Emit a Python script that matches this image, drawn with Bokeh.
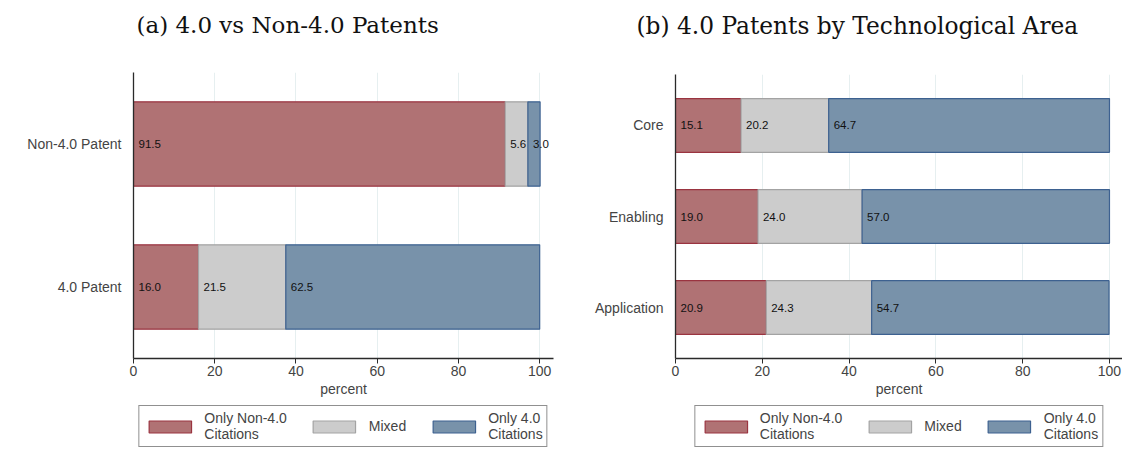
from bokeh.plotting import figure
from bokeh.models import (ColumnDataSource, Range1d, FactorRange, FixedTicker,
                          LabelSet, Legend, LegendItem)
from bokeh.core.properties import value
from bokeh.layouts import row, column
from bokeh.embed import file_html
from bokeh.resources import INLINE

# Panel (a): citation mix for 4.0 vs non-4.0 patents (percent)
cats_a = ["4.0 Patent", "Non-4.0 Patent"]
only_non_a = [16.0, 91.5]
mixed_a = [21.5, 5.6]
only_40_a = [62.5, 3.0]

# Panel (b): citation mix of 4.0 patents by technological area (percent)
cats_b = ["Application", "Enabling", "Core"]
only_non_b = [20.9, 19.0, 15.1]
mixed_b = [24.3, 24.0, 20.2]
only_40_b = [54.7, 57.0, 64.7]

series_names = ["Only Non-4.0\nCitations", "Mixed", "Only 4.0\nCitations"]
fills = ["#b07274", "#cccccc", "#7892aa"]
lines = ["#9a3440", "#a3a3a3", "#3d6190"]
x_ticks = [0, 20, 40, 60, 80, 100]

SANS = "Liberation Sans"
SERIF = "DejaVu Serif"

MAIN_H = 402
LEG_H = 458 - MAIN_H


def make_panel(title, cats, non, mix, only, width, border_left, border_right,
               x_end, pad, title_offset, title_size):
    # the blank second title line lifts the caption toward the top edge
    p = figure(width=width, height=MAIN_H, output_backend="svg", toolbar_location=None,
               y_range=FactorRange(*cats, range_padding=pad),
               x_range=Range1d(0, x_end),
               min_border_left=border_left, min_border_right=border_right,
               min_border_top=72, min_border_bottom=MAIN_H - 358,
               title=title + "\n ")
    p.title.text_font = SERIF
    p.title.text_font_size = title_size
    p.title.text_font_style = "normal"
    p.title.text_color = "#111111"
    p.title.align = "left"
    p.title.offset = title_offset
    p.title.standoff = 18

    p.outline_line_color = None
    p.background_fill_color = "white"
    p.border_fill_color = "white"

    stacks = [non, mix, only]
    left = [0.0] * len(cats)
    for vals, fc, lc in zip(stacks, fills, lines):
        right = [l + v for l, v in zip(left, vals)]
        src = ColumnDataSource(dict(cat=cats, left=left, right=right,
                                    val=vals, txt=["%.1f" % v for v in vals]))
        p.hbar(y="cat", left="left", right="right", height=0.59, source=src,
               fill_color=fc, line_color=lc, line_width=1.2)
        p.add_layout(LabelSet(x="left", y="cat", text="txt", source=src,
                              x_offset=5, text_baseline="middle", text_align="left",
                              text_font=value(SANS), text_font_size=value("11.5px"),
                              text_color="#111111"))
        left = right

    # axes
    p.xaxis.ticker = FixedTicker(ticks=x_ticks)
    p.xaxis.axis_label = "percent"
    p.xaxis.axis_label_text_font = SANS
    p.xaxis.axis_label_text_font_size = "14px"
    p.xaxis.axis_label_text_font_style = "normal"
    p.xaxis.axis_label_standoff = 2
    p.xaxis.major_label_text_font = SANS
    p.xaxis.major_label_text_font_size = "14px"
    p.xaxis.major_label_standoff = 2
    p.xaxis.major_tick_out = 5
    p.xaxis.major_tick_in = 0
    p.xaxis.minor_tick_line_color = None
    p.xaxis.axis_line_color = "#2a2a2a"
    p.xaxis.axis_line_width = 1.3
    p.xaxis.major_tick_line_color = "#2a2a2a"

    p.yaxis.major_label_text_font = SANS
    p.yaxis.major_label_text_font_size = "14px"
    p.yaxis.major_label_standoff = 6
    p.yaxis.major_tick_line_color = None
    p.yaxis.axis_line_color = "#2a2a2a"
    p.yaxis.axis_line_width = 1.3

    p.xgrid.ticker = FixedTicker(ticks=x_ticks[1:])
    p.xgrid.grid_line_color = "#e6eff0"
    p.xgrid.grid_line_width = 1
    p.ygrid.grid_line_color = None
    return p


def make_key(width, border_left, border_right):
    # strip holding the series key under each panel; the swatch renderers are
    # hidden so only the key itself shows
    k = figure(width=width, height=LEG_H, output_backend="svg", toolbar_location=None,
               x_range=Range1d(0, 1), y_range=Range1d(0, 1),
               min_border_left=border_left, min_border_right=border_right,
               min_border_top=0, min_border_bottom=0)
    k.axis.visible = False
    k.grid.visible = False
    k.outline_line_color = None
    swatch_src = ColumnDataSource(dict(y=[0.5], left=[0.0], right=[0.1]))
    rs = []
    for fc, lc in zip(fills, lines):
        r = k.hbar(y="y", left="left", right="right", height=0.2, source=swatch_src,
                   fill_color=fc, line_color=lc, line_width=1.2)
        r.visible = False
        rs.append(r)
    legend = Legend(items=[LegendItem(label=n, renderers=[r])
                           for n, r in zip(series_names, rs)],
                    orientation="horizontal", location="top_center",
                    glyph_width=53, glyph_height=15, label_standoff=8,
                    spacing=21, padding=4, margin=3,
                    label_text_font=SANS, label_text_font_size="14px",
                    label_text_line_height=0.85,
                    inactive_fill_alpha=0,
                    border_line_color="#222222", border_line_width=1,
                    background_fill_alpha=1)
    k.add_layout(legend)
    return k


pa = make_panel("(a) 4.0 vs Non-4.0 Patents", cats_a, only_non_a, mixed_a, only_40_a,
                width=578, border_left=133, border_right=25, x_end=103.4, pad=0,
                title_offset=3, title_size="23px")
pb = make_panel("(b) 4.0 Patents by Technological Area", cats_b, only_non_b, mixed_b,
                only_40_b, width=544, border_left=97, border_right=0, x_end=103.0,
                pad=0.04, title_offset=-39, title_size="23.3px")
ka = make_key(578, 133, 25)
kb = make_key(544, 97, 0)

layout = row(column(pa, ka, spacing=0), column(pb, kb, spacing=0), spacing=0)
open("out.html", "w").write(file_html(layout, INLINE))
